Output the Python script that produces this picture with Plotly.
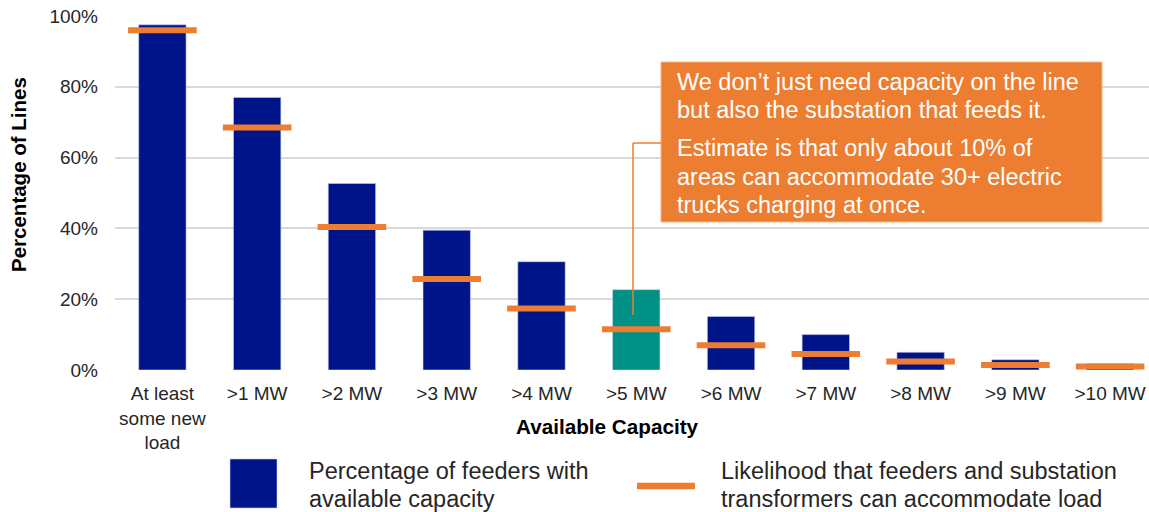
import plotly.graph_objects as go

# capacity buckets and shares (fraction of lines)
categories = ["At least<br>some new<br>load", ">1 MW", ">2 MW", ">3 MW", ">4 MW", ">5 MW",
              ">6 MW", ">7 MW", ">8 MW", ">9 MW", ">10 MW"]
feeders_pct = [0.975, 0.77, 0.527, 0.395, 0.306, 0.227, 0.151, 0.10, 0.05, 0.029, 0.018]
substation_pct = [0.96, 0.685, 0.404, 0.257, 0.174, 0.115, 0.07, 0.045, 0.024, 0.014, 0.010]
highlight = ">5 MW"

callout_lines = ["We don’t just need capacity on the line",
                 "but also the substation that feeds it.",
                 "Estimate is that only about 10% of",
                 "areas can accommodate 30+ electric",
                 "trucks charging at once."]
legend_bar_lines = ["Percentage of feeders with", "available capacity"]
legend_line_lines = ["Likelihood that feeders and substation", "transformers can accommodate load"]

NAVY = "#001489"
TEAL = "#009186"
ORANGE = "#ED7D31"
TEXT = "#262626"
FONT = "Arial, Liberation Sans, sans-serif"

W, H = 1149, 512
L, R, T, B = 115, 0, 16, 142


def px(x):  # pixel -> paper x
    return (x - L) / (W - L - R)


def py(y):  # pixel -> paper y
    return (H - B - y) / (H - T - B)


x_idx = list(range(len(categories)))
bar_colors = [TEAL if c == highlight else NAVY for c in categories]

fig = go.Figure()
fig.add_trace(go.Bar(
    x=x_idx, y=feeders_pct, width=0.5,
    marker=dict(color=bar_colors, line=dict(color="#c9cff0", width=0.6)),
    showlegend=False,
))
fig.add_trace(go.Scatter(
    x=x_idx, y=substation_pct, mode="markers",
    marker=dict(symbol="line-ew", size=49, line=dict(color=ORANGE, width=6)),
    showlegend=False,
))

shapes = [
    # callout box and connector
    dict(type="rect", xref="paper", yref="paper", x0=px(661), x1=px(1102), y0=py(222), y1=py(62),
         fillcolor=ORANGE, line=dict(color="#f3b88e", width=1), layer="above"),
    dict(type="line", xref="paper", yref="paper", x0=px(633), x1=px(633), y0=py(143), y1=py(315),
         line=dict(color=ORANGE, width=1.5)),
    dict(type="line", xref="paper", yref="paper", x0=px(633), x1=px(661), y0=py(143), y1=py(143),
         line=dict(color=ORANGE, width=1.5)),
    # legend swatches
    dict(type="rect", xref="paper", yref="paper", x0=px(230), x1=px(277), y0=py(508), y1=py(459),
         fillcolor=NAVY, line=dict(color="#c9cff0", width=0.6)),
    dict(type="line", xref="paper", yref="paper", x0=px(637), x1=px(695), y0=py(486), y1=py(486),
         line=dict(color=ORANGE, width=6.5)),
]

annotations = []
for txt, yc in zip(callout_lines, [82, 110, 148, 177, 205]):
    annotations.append(dict(text=txt, xref="paper", yref="paper", x=px(675), y=py(yc),
                            xanchor="left", yanchor="middle", showarrow=False,
                            font=dict(family=FONT, size=23.5, color="white")))
for txt, yc in zip(legend_bar_lines, [471, 499]):
    annotations.append(dict(text=txt, xref="paper", yref="paper", x=px(307), y=py(yc),
                            xanchor="left", yanchor="middle", showarrow=False,
                            font=dict(family=FONT, size=23.5, color=TEXT)))
for txt, yc in zip(legend_line_lines, [471, 499]):
    annotations.append(dict(text=txt, xref="paper", yref="paper", x=px(719), y=py(yc),
                            xanchor="left", yanchor="middle", showarrow=False,
                            font=dict(family=FONT, size=23.5, color=TEXT)))
annotations += [
    dict(text="<b>Available Capacity</b>", xref="paper", yref="paper", x=px(607), y=py(426),
         xanchor="center", yanchor="middle", showarrow=False,
         font=dict(family=FONT, size=20.7, color="black")),
    dict(text="<b>Percentage of Lines</b>", xref="paper", yref="paper", x=px(18), y=py(175),
         xanchor="center", yanchor="middle", textangle=-90, showarrow=False,
         font=dict(family=FONT, size=20.5, color="black")),
]

fig.update_layout(
    width=W, height=H,
    margin=dict(l=L, r=R, t=T, b=B),
    plot_bgcolor="white", paper_bgcolor="white",
    font=dict(family=FONT, size=19, color=TEXT),
    shapes=shapes, annotations=annotations,
)
fig.update_xaxes(
    range=[-0.5, 10.41], tickmode="array", tickvals=x_idx, ticktext=categories,
    showgrid=False, zeroline=False, showline=False, ticks="",
    ticklabelstandoff=10, tickfont=dict(size=19, color=TEXT),
)
fig.update_yaxes(
    range=[0, 1.0], tickvals=[0, 0.2, 0.4, 0.6, 0.8, 1.0], tickformat=".0%",
    showgrid=True, gridcolor="#D9D9D9", gridwidth=1.5, zeroline=False,
    ticklabelstandoff=16, tickfont=dict(size=19, color=TEXT),
)

# drop the page's default body margin so the figure sits at the window's corner
fig.write_html("out.html", config={"displayModeBar": False},
               post_script="document.body.style.margin='0';")
